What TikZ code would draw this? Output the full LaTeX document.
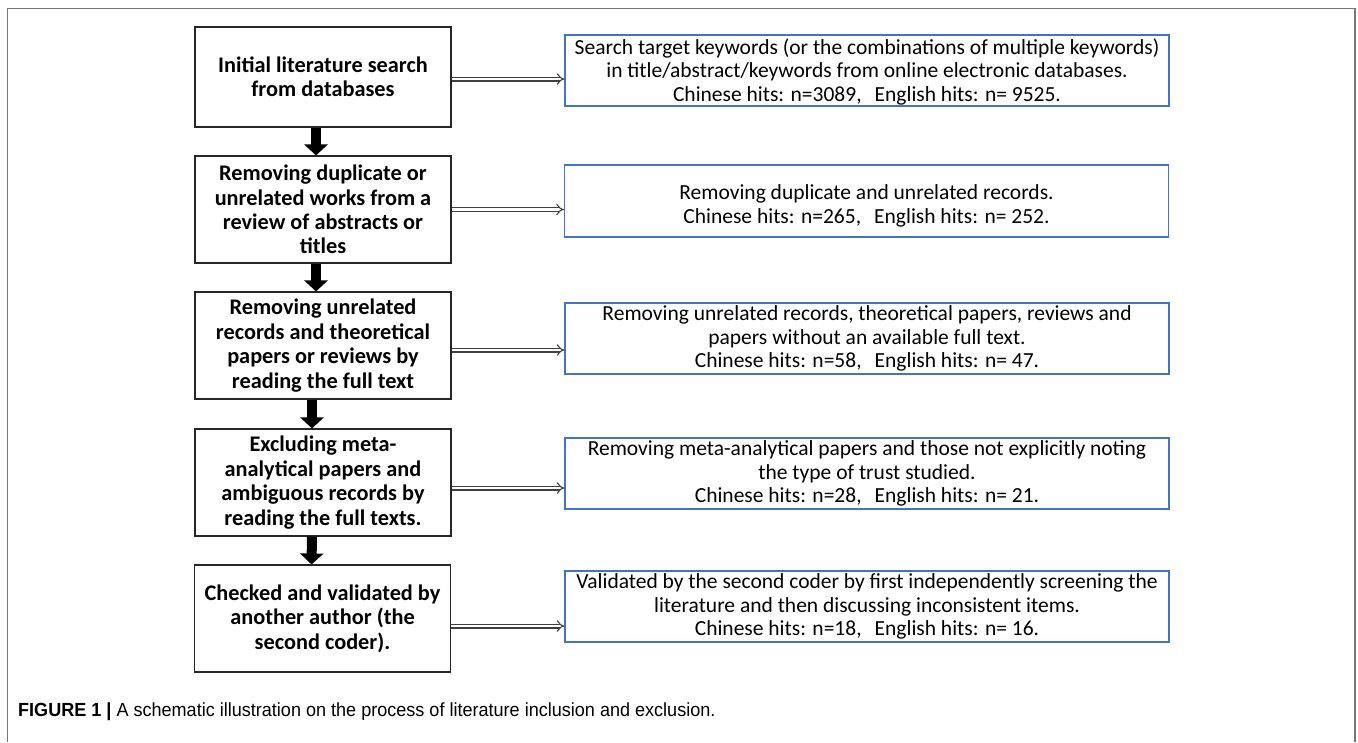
\documentclass[tikz,border=0pt]{standalone}
\usepackage{fontspec}
\usetikzlibrary{arrows.meta}
\setmainfont{Carlito}
\newfontfamily\lfont{Carlito}
\newfontfamily\capfont[FakeStretch=0.95]{Liberation Sans}
\definecolor{rblue}{RGB}{68,114,196}
\definecolor{framegray}{RGB}{120,120,120}
\tikzset{
  lbox/.style={draw=black!85, line width=1.1pt, inner sep=0pt, align=center,
    minimum width=256pt, minimum height=107pt,
    font=\fontsize{22.3}{24.4}\selectfont\lfont\bfseries},
  rbox/.style={draw=rblue, line width=1.1pt, inner sep=0pt,
    minimum width=604pt, minimum height=71pt},
  rtext/.style={inner sep=0pt, align=center,
    font=\fontsize{21.5}{23.5}\selectfont\lfont},
  downarrow/.style={line width=10pt, black,
    -{Triangle[length=11pt, width=23pt]}},
  sidearrow/.style={draw=black!75, line width=1.1pt, double=white,
    double distance=2.8pt, -{Implies}},
}
\begin{document}
\begin{tikzpicture}[x=1pt, y=-1pt]
\useasboundingbox (0,0) rectangle (1358,742);
% outer frame (open at bottom)
\draw[framegray, line width=1.5pt] (7.5,742) -- (7.5,8.5) -- (1355,8.5) -- (1355,742);

% left boxes
\node[lbox, minimum height=100pt] (L1) at (323,77) {Initial literature search\\from databases};
\node[lbox] (L2) at (323,209.5) {Removing duplicate or\\unrelated works from a\\review of abstracts or\\titles};
\node[lbox] (L3) at (323,345.5) {Removing unrelated\\records and theoretical\\papers or reviews by\\reading the full text};
\node[lbox] (L4) at (323,482.5) {Excluding meta-\\analytical papers and\\ambiguous records by\\reading the full texts.};
\node[lbox] (L5) at (322.5,618.5) {Checked and validated by\\another author (the\\second coder).};

% right boxes
\node[rbox] (R1) at (867,70.5) {};
\node[rbox, minimum height=72pt] (R2) at (866.5,201) {};
\node[rbox] (R3) at (867,338.5) {};
\node[rbox] (R4) at (867,473.5) {};
\node[rbox] (R5) at (867,606.5) {};

\node[rtext] (T1) at ([yshift=-1pt]R1.center) {Search target keywords (or the combinations of multiple keywords)\\in title/abstract/keywords from online electronic databases.\\Chinese hits: n=3089,\hspace{13pt}English hits: n=~9525.};
\node[rtext] (T2) at ([yshift=-5pt]R2.center) {Removing duplicate and unrelated records.\\Chinese hits: n=265,\hspace{13pt}English hits: n=~252.};
\node[rtext] (T3) at (R3.center) {Removing unrelated records, theoretical papers, reviews and\\papers without an available full text.\\Chinese hits: n=58,\hspace{13pt}English hits: n=~47.};
\node[rtext] (T4) at (R4.center) {Removing meta-analytical papers and those not explicitly noting\\the type of trust studied.\\Chinese hits: n=28,\hspace{13pt}English hits: n=~21.};
\node[rtext] (T5) at (R5.center) {Validated by the second coder by first independently screening the\\literature and then discussing inconsistent items.\\Chinese hits: n=18,\hspace{13pt}English hits: n=~16.};

% down arrows
\draw[downarrow] ([xshift=-7pt]L1.south) -- ([xshift=-7pt]L2.north);
\draw[downarrow] ([xshift=-7pt]L2.south) -- ([xshift=-7pt]L3.north);
\draw[downarrow] ([xshift=-11pt]L3.south) -- ([xshift=-11pt]L4.north);
\draw[downarrow] ([xshift=-11pt]L4.south) -- ([xshift=-11pt]L5.north);

% side arrows
\draw[sidearrow] ([yshift=-2pt]L1.east) -- ([yshift=-2pt]L1.east -| R1.west);
\draw[sidearrow] (L2.east) -- (L2.east -| R2.west);
\draw[sidearrow] ([yshift=-4.5pt]L3.east) -- ([yshift=-4.5pt]L3.east -| R3.west);
\draw[sidearrow] ([yshift=-5.5pt]L4.east) -- ([yshift=-5.5pt]L4.east -| R4.west);
\draw[sidearrow] ([yshift=-7.5pt]L5.east) -- ([yshift=-7.5pt]L5.east -| R5.west);

% caption
\node[anchor=west, inner sep=0pt, font=\fontsize{19}{22}\selectfont\capfont] (cap) at (18,712)
  {\textbf{FIGURE 1 |} A schematic illustration on the process of literature inclusion and exclusion.};
\end{tikzpicture}
\end{document}
